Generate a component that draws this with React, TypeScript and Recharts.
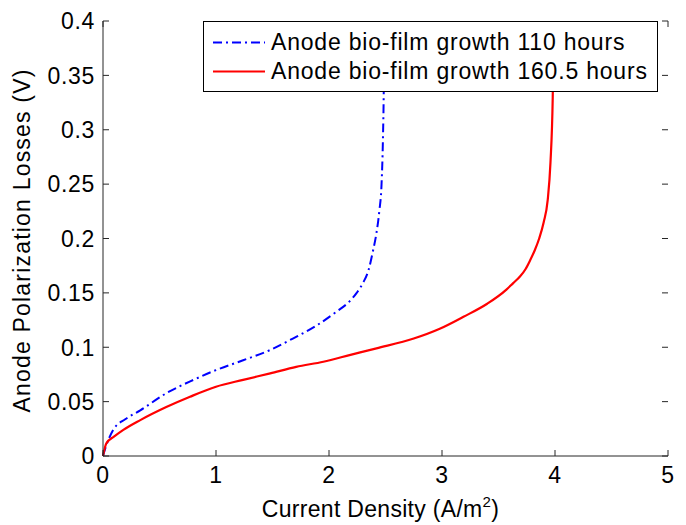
import { Legend, Line, LineChart, XAxis, YAxis } from 'recharts';

/**
 * Anode polarization losses vs current density for two bio-film growth times.
 * MATLAB-style box plot: inward ticks on all four sides, boxed legend top right.
 * The custom tick renderers take the tick coordinate from the axis scale and
 * draw the inward marks on both opposite edges of the plot box.
 */

const xTicks = [0, 1, 2, 3, 4, 5];
const yTicks = [0, 0.05, 0.1, 0.15, 0.2, 0.25, 0.3, 0.35, 0.4];

// 110 hours of growth (blue, dash-dot)
const growth110X = [0, 0.03, 0.09, 0.2, 0.33, 0.56, 0.8, 1.0, 1.24, 1.48, 1.68, 1.89, 2.07, 2.18, 2.245, 2.3, 2.35, 2.39, 2.42, 2.445, 2.465, 2.477, 2.485, 2.49];
const growth110Y = [0, 0.01, 0.024, 0.034, 0.042, 0.0577, 0.07, 0.079, 0.088, 0.0975, 0.108, 0.12, 0.133, 0.142, 0.15, 0.159, 0.171, 0.189, 0.205, 0.225, 0.25, 0.29, 0.34, 0.4];

// 160.5 hours of growth (red, solid)
const growth160X = [0, 0.03, 0.1, 0.18, 0.33, 0.56, 0.77, 1.0, 1.24, 1.48, 1.71, 1.95, 2.19, 2.42, 2.75, 2.98, 3.19, 3.4, 3.57, 3.63, 3.69, 3.74, 3.78, 3.82, 3.86, 3.9, 3.935, 3.96, 3.98, 3.99];
const growth160Y = [0, 0.0117, 0.018, 0.024, 0.033, 0.045, 0.0545, 0.0637, 0.07, 0.076, 0.082, 0.0867, 0.093, 0.099, 0.108, 0.117, 0.128, 0.14, 0.153, 0.159, 0.165, 0.172, 0.18, 0.189, 0.2, 0.215, 0.235, 0.27, 0.33, 0.4];

const seriesNames = ['Anode bio-film growth 110 hours', 'Anode bio-film growth 160.5 hours'];
const seriesColors = ['#0000ff', '#ff0000'];
const seriesDashes = ['9 4 2 4', undefined];

const growth110 = growth110X.map((x, i) => ({ x, y: growth110Y[i] }));
const growth160 = growth160X.map((x, i) => ({ x, y: growth160Y[i] }));

const FONT = '"Liberation Sans", Arial, Helvetica, sans-serif';
const AXIS_COLOR = '#262626';

// layout
const CHART_W = 686;
const CHART_H = 525;
const MARGIN = { top: 21, right: 18, bottom: 0, left: 0 };
const X_AXIS_H = 69;
const Y_AXIS_W = 103;
const PLOT_LEFT = MARGIN.left + Y_AXIS_W;
const PLOT_RIGHT = CHART_W - MARGIN.right;
const PLOT_TOP = MARGIN.top;
const PLOT_BOTTOM = CHART_H - MARGIN.bottom - X_AXIS_H;
const TICK_LEN = 6;

const labelProps = { fontSize: 23, fill: '#000', fontFamily: FONT, letterSpacing: 0.7 };

function BottomTick({ payload }: any) {
  const x = payload.coordinate;
  return (
    <g>
      <line x1={x} x2={x} y1={PLOT_BOTTOM} y2={PLOT_BOTTOM - TICK_LEN} stroke={AXIS_COLOR} strokeWidth={1} />
      <line x1={x} x2={x} y1={PLOT_TOP} y2={PLOT_TOP + TICK_LEN} stroke={AXIS_COLOR} strokeWidth={1} />
      <text x={x} y={PLOT_BOTTOM + 10} dy="0.72em" textAnchor="middle" {...labelProps}>
        {String(payload.value)}
      </text>
    </g>
  );
}

function LeftTick({ payload }: any) {
  const y = payload.coordinate;
  return (
    <g>
      <line x1={PLOT_LEFT} x2={PLOT_LEFT + TICK_LEN} y1={y} y2={y} stroke={AXIS_COLOR} strokeWidth={1} />
      <line x1={PLOT_RIGHT} x2={PLOT_RIGHT - TICK_LEN} y1={y} y2={y} stroke={AXIS_COLOR} strokeWidth={1} />
      <text x={PLOT_LEFT - 8} y={y} dy="0.36em" textAnchor="end" {...labelProps}>
        {String(payload.value)}
      </text>
    </g>
  );
}

function LegendBox() {
  return (
    <div
      style={{
        boxSizing: 'border-box',
        width: 455,
        height: 71,
        border: '1px solid #000',
        background: '#fff',
        paddingTop: 6,
        fontFamily: FONT,
      }}
    >
      {seriesNames.map((name, i) => (
        <div key={name} style={{ display: 'flex', alignItems: 'center', height: 29 }}>
          <svg width={62} height={29} style={{ display: 'block' }}>
            <line
              x1={9}
              x2={61}
              y1={14.5}
              y2={14.5}
              stroke={seriesColors[i]}
              strokeWidth={2}
              strokeDasharray={seriesDashes[i]}
            />
          </svg>
          <span style={{ fontSize: 23, letterSpacing: 0.8, marginLeft: 5, color: '#000', whiteSpace: 'nowrap' }}>
            {name}
          </span>
        </div>
      ))}
    </div>
  );
}

export default function App() {
  return (
    <div style={{ position: 'absolute', left: 0, top: 0, width: CHART_W, height: CHART_H, background: '#fff' }}>
      <LineChart width={CHART_W} height={CHART_H} margin={MARGIN}>
        <XAxis
          xAxisId="bottom"
          type="number"
          dataKey="x"
          domain={[0, 5]}
          ticks={xTicks}
          interval={0}
          height={X_AXIS_H}
          tickLine={false}
          tick={BottomTick}
          stroke={AXIS_COLOR}
          label={{
            content: (p: any) => {
              const vb = p.viewBox;
              const cx = vb.x + vb.width / 2 - 5;
              const cy = vb.y + 61;
              return (
                <text x={cx} y={cy} textAnchor="middle" fontSize={23} fontFamily={FONT} fill="#000" letterSpacing={0.3}>
                  Current Density (A/m
                  <tspan fontSize={15} dy={-10}>2</tspan>
                  <tspan dy={10}>)</tspan>
                </text>
              );
            },
          }}
        />
        <XAxis
          xAxisId="top"
          orientation="top"
          type="number"
          domain={[0, 5]}
          height={0}
          tickLine={false}
          tick={false}
          stroke={AXIS_COLOR}
        />
        <YAxis
          yAxisId="left"
          type="number"
          domain={[0, 0.4]}
          ticks={yTicks}
          interval={0}
          width={Y_AXIS_W}
          tickLine={false}
          tick={LeftTick}
          stroke={AXIS_COLOR}
          label={{
            content: (p: any) => {
              const vb = p.viewBox;
              const cx = vb.x + 29.5;
              const cy = vb.y + vb.height / 2 + 2;
              return (
                <text
                  transform={`translate(${cx},${cy}) rotate(-90)`}
                  textAnchor="middle"
                  fontSize={23}
                  fontFamily={FONT}
                  fill="#000"
                  letterSpacing={1.2}
                >
                  Anode Polarization Losses (V)
                </text>
              );
            },
          }}
        />
        <YAxis
          yAxisId="right"
          orientation="right"
          type="number"
          domain={[0, 0.4]}
          width={0}
          tickLine={false}
          tick={false}
          stroke={AXIS_COLOR}
        />
        <Legend
          layout="vertical"
          align="center"
          verticalAlign="middle"
          wrapperStyle={{ position: 'absolute', top: 21, left: 203, width: 455, height: 71 }}
          content={() => <LegendBox />}
        />
        <Line
          xAxisId="bottom"
          yAxisId="left"
          data={growth110}
          dataKey="y"
          name={seriesNames[0]}
          type="monotone"
          stroke={seriesColors[0]}
          strokeWidth={2}
          strokeDasharray={seriesDashes[0]}
          dot={false}
          isAnimationActive={false}
        />
        <Line
          xAxisId="bottom"
          yAxisId="left"
          data={growth160}
          dataKey="y"
          name={seriesNames[1]}
          type="monotone"
          stroke={seriesColors[1]}
          strokeWidth={2.2}
          dot={false}
          isAnimationActive={false}
        />
      </LineChart>
    </div>
  );
}
